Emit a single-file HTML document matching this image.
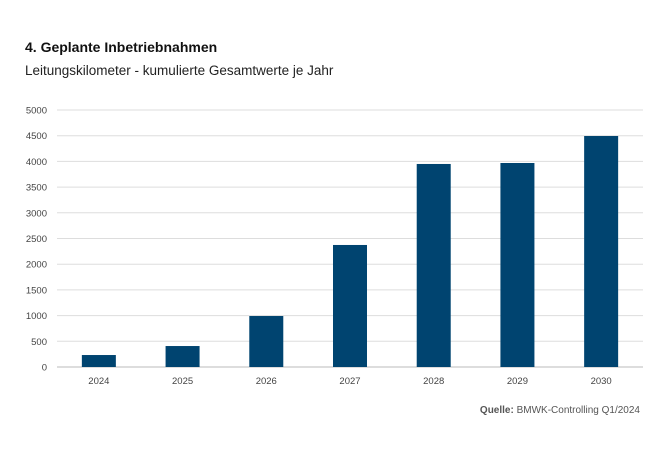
<!DOCTYPE html>
<html><head><meta charset="utf-8"><style>
body{margin:0;background:#fff;font-family:"Liberation Sans",sans-serif;}
svg{display:block}
</style></head><body>
<svg id="c" width="650" height="450">
<text x="25" y="52" font-size="14" font-weight="bold" fill="#111">4. Geplante Inbetriebnahmen</text>
<text x="25" y="75" font-size="13.5" fill="#222">Leitungskilometer - kumulierte Gesamtwerte je Jahr</text>
<text x="640" y="413" font-size="10" text-anchor="end" fill="#555"><tspan font-weight="bold">Quelle:</tspan> BMWK-Controlling Q1/2024</text>
<g id="grid"></g><g id="bars"></g><g id="labels"></g>
</svg>
<script>
const categories=["2024","2025","2026","2027","2028","2029","2030"];
const values=[233,408,992,2374,3950,3969,4494];
const ticks=[0,500,1000,1500,2000,2500,3000,3500,4000,4500,5000];
const NS="http://www.w3.org/2000/svg";
const x0=57,x1=643,y0=367,y1=110,maxV=5000;
const y=v=>y0-(v/maxV)*(y0-y1);
const band=(x1-x0)/categories.length;
const xc=i=>x0+band*(i+0.5);
const grid=document.getElementById('grid'),bars=document.getElementById('bars'),labels=document.getElementById('labels');
function mk(t,a){const e=document.createElementNS(NS,t);for(const k in a)e.setAttribute(k,a[k]);return e;}
ticks.forEach(t=>{
 const l=mk('line',{x1:x0,x2:x1,y1:y(t),y2:y(t),stroke:t===0?'#bbb':'#ddd','stroke-width':1});
 
 
 grid.appendChild(l);
 const tx=mk('text',{x:47,y:y(t)+3.5,'font-size':9.5,'text-anchor':'end',fill:'#444'});
 tx.textContent=t;
 
 
 labels.appendChild(tx);
});
categories.forEach((c,i)=>{
 const w=34;
 const r=mk('rect',{x:xc(i)-w/2,y:y(values[i]),width:w,height:y0-y(values[i]),fill:'#004470'});
 
 
 bars.appendChild(r);
 const tx=mk('text',{x:xc(i),y:384,'font-size':9.5,'text-anchor':'middle',fill:'#444'});
 tx.textContent=c;
 
 
 labels.appendChild(tx);
});
</script>
</body></html>
